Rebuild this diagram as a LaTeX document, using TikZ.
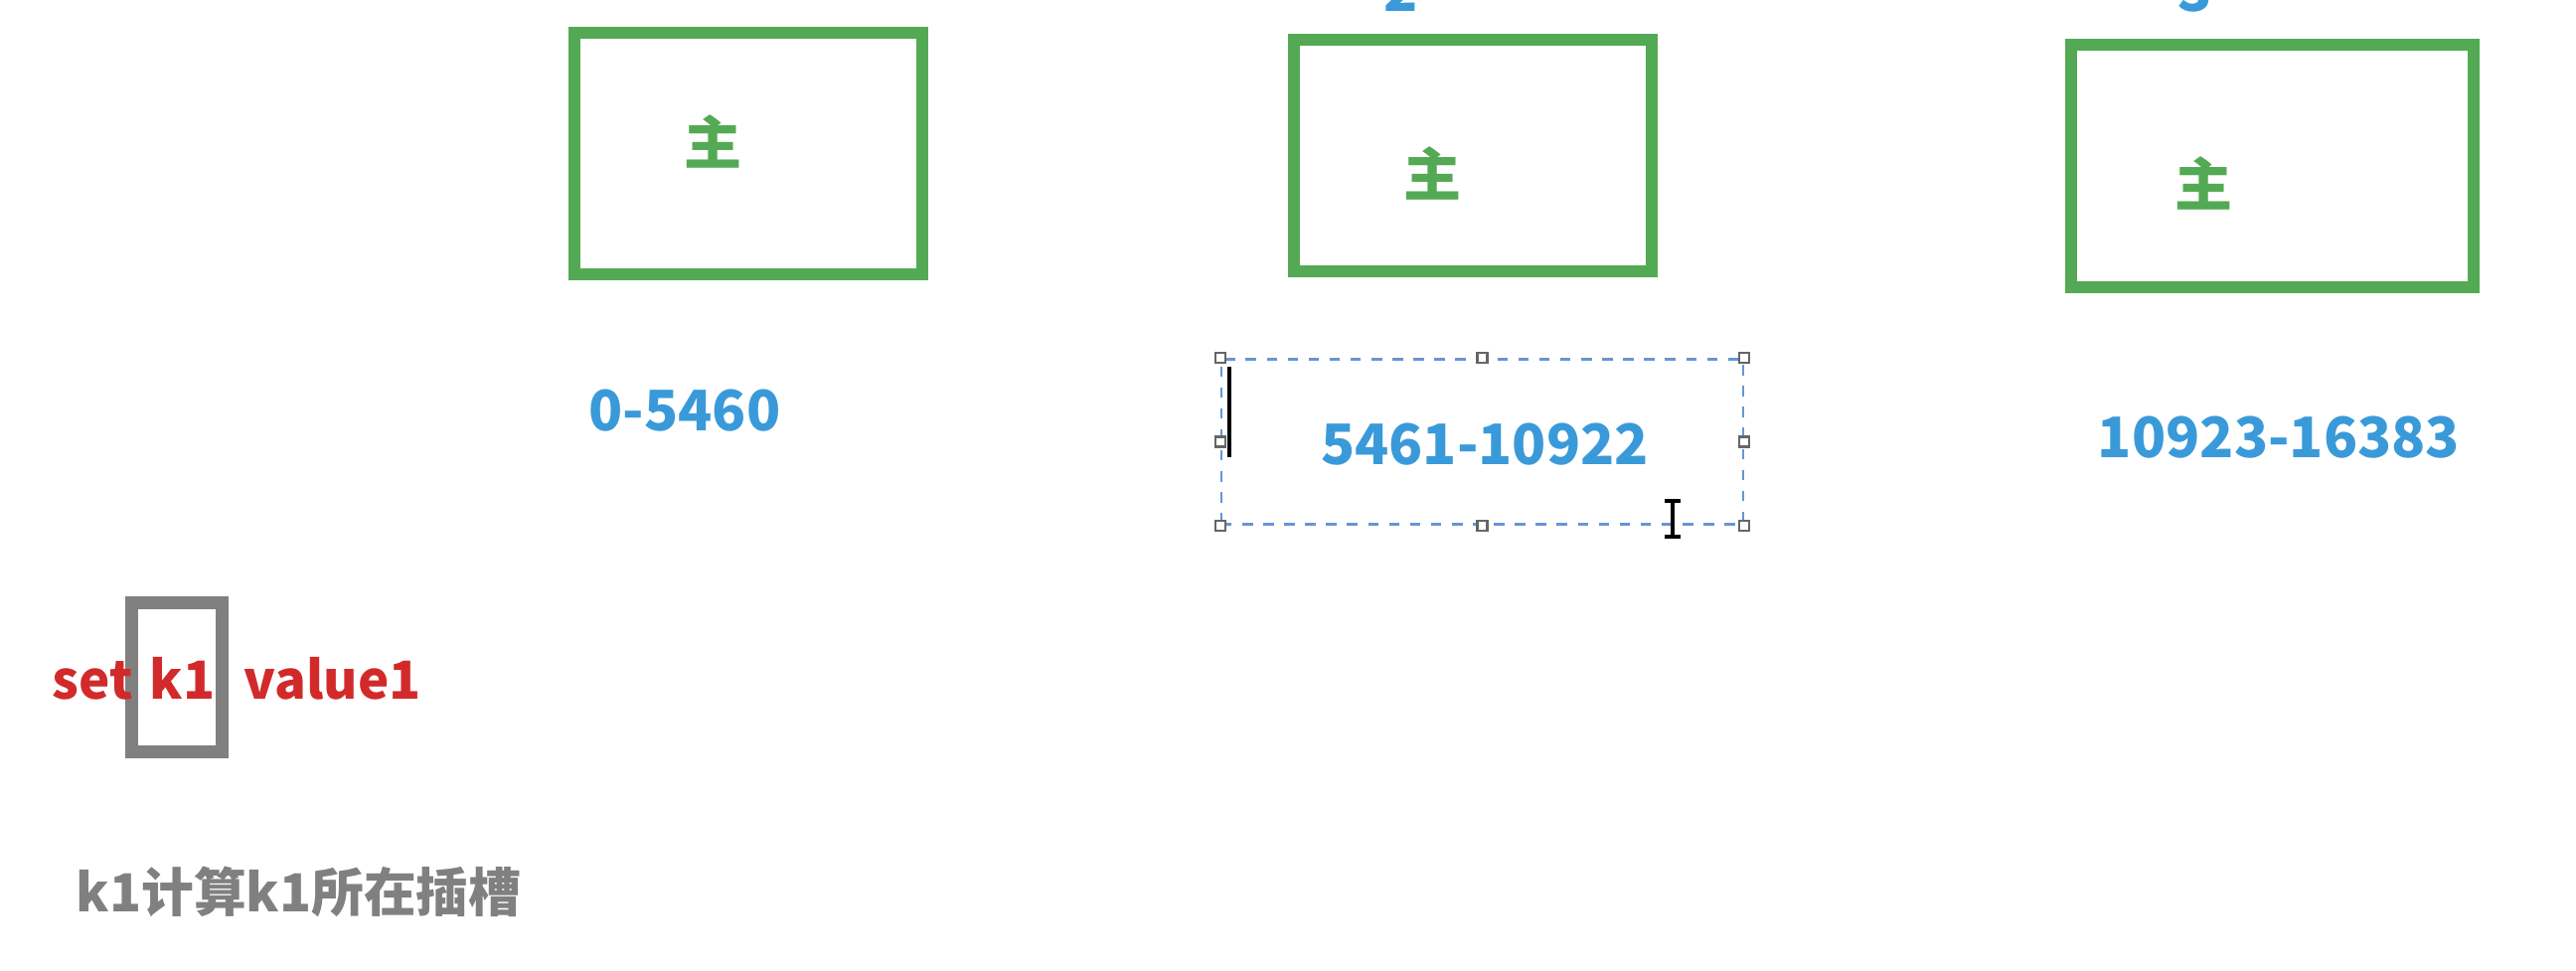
\documentclass[tikz,border=0pt]{standalone}
\usepackage{fontspec}
\setmainfont{Noto Sans CJK SC}
\usepackage{tikz}
\usetikzlibrary{positioning}
\definecolor{nodegreen}{RGB}{84,170,84}
\definecolor{slotblue}{RGB}{58,154,217}
\definecolor{cmdred}{RGB}{210,42,42}
\definecolor{hintgray}{RGB}{128,128,128}
\definecolor{selblue}{RGB}{100,150,215}
\tikzstyle{master}   = [draw=nodegreen,line width=0.12cm,inner sep=0pt]
\tikzstyle{mlabel}   = [text=nodegreen,font=\fontsize{16.5}{20}\selectfont\bfseries,inner sep=0pt]
\tikzstyle{slot}     = [text=slotblue,font=\fontsize{16}{20}\selectfont\bfseries,inner sep=0pt]
\tikzstyle{cmd}      = [text=cmdred,font=\fontsize{15}{18}\selectfont\bfseries,inner sep=0pt,anchor=base west]
\tikzstyle{handle}   = [draw=black!60,fill=white,line width=0.6pt,minimum size=0.1cm,inner sep=0pt]

\begin{document}
\begin{tikzpicture}[x=0.01cm,y=-0.01cm]
  \useasboundingbox (0,0) rectangle (2592,976);

  %put the three masters on top
  \node[master,minimum width=3.5cm,minimum height=2.43cm] (m1) at (753,154.5) {};
  \node[master,minimum width=3.6cm,minimum height=2.33cm] (m2) at (1482,156.5) {};
  \node[master,minimum width=4.05cm,minimum height=2.44cm] (m3) at (2286.5,167) {};
  \node[mlabel] (t1) at (717,142) {主};
  \node[mlabel] (t2) at (1441,174) {主};
  \node[mlabel] (t3) at (2217,184) {主};

  %numbers cut off by the top edge
  \node[slot] (n2) at (1410,-9) {2};
  \node[slot] (n3) at (2209,-9) {3};

  %slot ranges
  \node[slot] (s1) at (689,413) {0-5460};
  \node[slot] (s2) at (1494,447) {5461-10922};
  \node[slot] (s3) at (2293,440) {10923-16383};

  %the selected text box round the middle range
  \node[draw=selblue,dashed,line width=0.7pt,minimum width=5.25cm,minimum height=1.66cm] (sel) at (1491.5,444.5) {};
  \foreach \a in {north west,north,north east,east,south east,south,south west,west}{
    \node[handle] at (sel.\a) {};
  }
  \coordinate (c1) at (1237,369);
  \coordinate (c2) at (1237,460);
  \draw[line width=1.2pt] (c1) -- (c2);
  \coordinate (b1) at (1683,504);
  \coordinate (b2) at (1683,540);
  \draw[line width=1.2pt] (b1) -- (b2);
  \draw[line width=1pt] ([xshift=-0.08cm]b1) -- ([xshift=0.08cm]b1);
  \draw[line width=1pt] ([xshift=-0.08cm]b2) -- ([xshift=0.08cm]b2);

  %the command and its key
  \node[draw=hintgray,line width=0.13cm,minimum width=0.9cm,minimum height=1.49cm,inner sep=0pt] (key) at (178,681.5) {};
  \node[cmd] (set) at (52,703) {set};
  \node[cmd] (k1) at (150,703) {k1};
  \node[cmd] (val) at (245,703) {value1};

  \node[text=hintgray,font=\fontsize{15}{18}\selectfont\bfseries,inner sep=0pt,anchor=west] (hint) at (76,897) {k1计算k1所在插槽};
\end{tikzpicture}
\end{document}
